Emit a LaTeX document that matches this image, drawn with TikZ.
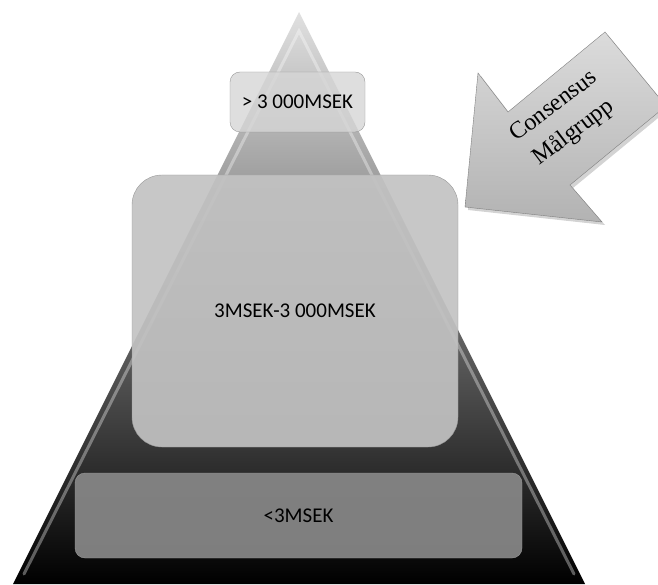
\documentclass[tikz,border=0pt]{standalone}
\usepackage{fontspec}
\setmainfont{Carlito}
\newfontfamily\arrowfont{Liberation Serif}
\usetikzlibrary{shadows}
\tikzset{
  tier/.style={draw=black!40, rounded corners=#1, inner sep=0pt,
    font=\fontsize{21}{25}\selectfont, text=black, text opacity=1},
  edgelight/.style={white, opacity=0.35, line width=3pt, line cap=round}
}
\begin{document}
\begin{tikzpicture}[x=1pt,y=1pt]
	\useasboundingbox (0,0) rectangle (658,584);
	\clip (0,0) rectangle (658,584);
	% pyramid
	\coordinate (apex) at (299,572);
	\coordinate (baseL) at (13,0);
	\coordinate (baseR) at (585,0);
	\shade[top color=black!12, middle color=black!50, bottom color=black] (apex)--(baseR)--(baseL)--cycle;
	\draw[edgelight] (24,10)--(299,553)--(574,10);
	% tiers
	\node[tier=10pt, fill=black!48, fill opacity=0.95, minimum width=447, minimum height=85] (low) at (298.5,68.5) {<3MSEK};
	\node[tier=30pt, fill=black!24, fill opacity=0.92, minimum width=326, minimum height=272] (mid) at (295,273) {3MSEK-3 000MSEK};
	\node[tier=10pt, fill=black!16, fill opacity=0.8, minimum width=135, minimum height=60] (top) at (297.5,482) {> 3 000MSEK};
	% target arrow
	\draw[black!50, top color=black!14, bottom color=black!30, drop shadow={opacity=0.35, shadow xshift=3pt, shadow yshift=-3pt}]
		(465,377)--(478,511)--(508,472)--(605,552)--(666,478)--(570,399)--(602,362)--cycle;
	\node[rotate=37, align=center, font=\arrowfont\fontsize{24}{33}\selectfont] (target) at (564,464) {Consensus\\Målgrupp};
\end{tikzpicture}
\end{document}
